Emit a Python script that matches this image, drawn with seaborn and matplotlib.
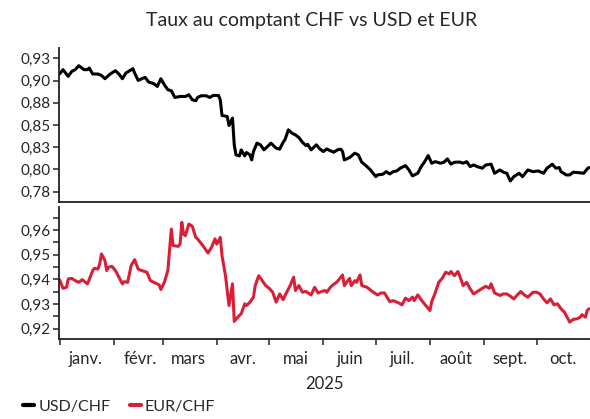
import matplotlib
matplotlib.use("Agg")
import matplotlib.pyplot as plt
import matplotlib.ticker as mticker
import seaborn as sns
import pandas as pd

# ---------------- data ----------------
title = "Taux au comptant CHF vs USD et EUR"
series_names = ["USD/CHF", "EUR/CHF"]
year_label = "2025"
months = ["janv.", "févr.", "mars", "avr.", "mai", "juin", "juil.", "août", "sept.", "oct."]

# day offsets from 2025-01-01 and spot rates
usd_day = [0, 2, 5, 7, 9, 11, 14, 16, 17, 19, 22, 24, 26, 29, 32, 34, 36, 38, 42, 43,
           45, 48, 49, 51, 54, 56, 58, 60, 62, 64, 66, 69, 72, 74, 76, 78, 79, 81, 84, 86,
           88, 91, 92, 93, 96, 97, 99, 100, 101, 103, 104, 106, 107, 109, 110, 111, 113, 115, 117, 119,
           121, 124, 126, 128, 129, 131, 133, 135, 137, 139, 141, 142, 144, 147, 149, 151, 153, 155, 157, 159,
           161, 162, 163, 166, 169, 171, 173, 176, 178, 181, 182, 185, 187, 189, 191, 193, 195, 198, 200, 202,
           205, 207, 209, 211, 213, 215, 218, 220, 222, 224, 226, 229, 231, 233, 235, 237, 239, 242, 244, 247,
           249, 252, 254, 256, 258, 260, 263, 265, 268, 271, 274, 277, 279, 282, 284, 286, 287, 290, 292, 294,
           297, 300, 302, 303]
usd_val = [0.9074, 0.9123, 0.9047, 0.9103, 0.9123, 0.9168, 0.9123, 0.9123, 0.9142, 0.9074,
           0.9074, 0.9058, 0.9021, 0.9074, 0.9111, 0.9074, 0.9021, 0.9085, 0.9134, 0.9085,
           0.9002, 0.9029, 0.9036, 0.8984, 0.8965, 0.8934, 0.9021, 0.8953, 0.8897, 0.8886,
           0.8810, 0.8821, 0.8821, 0.8841, 0.8784, 0.8773, 0.8810, 0.8829, 0.8829, 0.8810,
           0.8833, 0.8833, 0.8784, 0.8607, 0.8596, 0.8494, 0.8578, 0.8277, 0.8164, 0.8152,
           0.8220, 0.8152, 0.8190, 0.8164, 0.8107, 0.8201, 0.8296, 0.8277, 0.8220, 0.8257,
           0.8296, 0.8239, 0.8228, 0.8307, 0.8333, 0.8446, 0.8408, 0.8389, 0.8359, 0.8307,
           0.8269, 0.8284, 0.8220, 0.8277, 0.8231, 0.8201, 0.8231, 0.8210, 0.8194, 0.8220,
           0.8228, 0.8201, 0.8107, 0.8133, 0.8183, 0.8164, 0.8081, 0.8032, 0.7994, 0.7919,
           0.7938, 0.7946, 0.7975, 0.7949, 0.7975, 0.7983, 0.8014, 0.8043, 0.7994, 0.7927,
           0.7957, 0.8032, 0.8088, 0.8156, 0.8070, 0.8088, 0.8070, 0.8081, 0.8119, 0.8059,
           0.8081, 0.8083, 0.8070, 0.8088, 0.8032, 0.8051, 0.8032, 0.8014, 0.8051, 0.8059,
           0.7957, 0.7994, 0.7969, 0.7957, 0.7870, 0.7919, 0.7957, 0.7919, 0.7994, 0.7975,
           0.7983, 0.7957, 0.8014, 0.8059, 0.8014, 0.8021, 0.7975, 0.7938, 0.7938, 0.7969,
           0.7964, 0.7957, 0.8006, 0.8021]

eur_day = [0, 2, 4, 5, 7, 9, 11, 13, 16, 17, 19, 20, 22, 23, 24, 26, 27, 28, 30, 32,
           34, 36, 37, 39, 41, 43, 45, 47, 50, 52, 54, 57, 58, 60, 62, 64, 65, 68, 69, 70,
           71, 72, 74, 76, 78, 79, 82, 85, 87, 89, 90, 92, 93, 95, 97, 99, 100, 102, 104, 106,
           107, 109, 111, 112, 114, 116, 118, 120, 122, 124, 126, 128, 130, 132, 134, 135, 137, 139, 141, 144,
           146, 148, 150, 152, 153, 155, 156, 159, 162, 163, 166, 167, 169, 170, 172, 173, 176, 179, 182, 184,
           186, 189, 191, 194, 196, 198, 200, 202, 203, 205, 208, 210, 212, 213, 215, 217, 219, 221, 223, 224,
           226, 228, 229, 231, 233, 235, 237, 240, 242, 244, 246, 247, 249, 252, 254, 256, 258, 260, 262, 264,
           266, 268, 271, 273, 275, 277, 279, 281, 283, 285, 287, 289, 292, 294, 296, 298, 299, 301, 302, 303]
eur_val = [0.9399, 0.9364, 0.9368, 0.9402, 0.9404, 0.9395, 0.9388, 0.9399, 0.9382, 0.9399,
           0.9436, 0.9445, 0.9442, 0.9463, 0.9503, 0.9476, 0.9436, 0.9449, 0.9453, 0.9436,
           0.9409, 0.9382, 0.9391, 0.9388, 0.9456, 0.9480, 0.9442, 0.9436, 0.9429, 0.9395,
           0.9388, 0.9378, 0.9359, 0.9388, 0.9436, 0.9604, 0.9537, 0.9534, 0.9543, 0.9631,
           0.9584, 0.9577, 0.9624, 0.9615, 0.9570, 0.9564, 0.9537, 0.9507, 0.9530, 0.9564,
           0.9543, 0.9570, 0.9496, 0.9415, 0.9294, 0.9382, 0.9230, 0.9247, 0.9261, 0.9301,
           0.9294, 0.9308, 0.9328, 0.9375, 0.9415, 0.9395, 0.9375, 0.9364, 0.9348, 0.9308,
           0.9341, 0.9318, 0.9348, 0.9375, 0.9409, 0.9355, 0.9375, 0.9348, 0.9351, 0.9337,
           0.9368, 0.9345, 0.9351, 0.9355, 0.9348, 0.9368, 0.9375, 0.9391, 0.9418, 0.9375,
           0.9404, 0.9375, 0.9395, 0.9388, 0.9418, 0.9375, 0.9368, 0.9351, 0.9337, 0.9345,
           0.9345, 0.9310, 0.9314, 0.9305, 0.9297, 0.9324, 0.9314, 0.9328, 0.9314, 0.9337,
           0.9308, 0.9291, 0.9274, 0.9310, 0.9345, 0.9388, 0.9404, 0.9429, 0.9422, 0.9432,
           0.9415, 0.9432, 0.9415, 0.9375, 0.9388, 0.9362, 0.9341, 0.9355, 0.9364, 0.9372,
           0.9364, 0.9382, 0.9345, 0.9335, 0.9341, 0.9341, 0.9332, 0.9321, 0.9337, 0.9351,
           0.9337, 0.9328, 0.9348, 0.9348, 0.9341, 0.9321, 0.9305, 0.9321, 0.9297, 0.9301,
           0.9281, 0.9267, 0.9227, 0.9238, 0.9240, 0.9247, 0.9257, 0.9247, 0.9274, 0.9281]

usd_ticks = [0.775, 0.800, 0.825, 0.850, 0.875, 0.900, 0.925]
usd_ticklabels = ["0,78", "0,80", "0,83", "0,85", "0,88", "0,90", "0,93"]
eur_ticks = [0.92, 0.93, 0.94, 0.95, 0.96]
eur_ticklabels = ["0,92", "0,93", "0,94", "0,95", "0,96"]

# ---------------- style ----------------
sns.set_theme(style="ticks")
plt.rcParams["font.family"] = ["Lato", "DejaVu Sans"]
black = "#000000"
red = "#d91f38"
spine_lw = 1.3

start = pd.Timestamp("2025-01-01")
usd_df = pd.DataFrame({"date": start + pd.to_timedelta(usd_day, unit="D"), "rate": usd_val})
eur_df = pd.DataFrame({"date": start + pd.to_timedelta(eur_day, unit="D"), "rate": eur_val})

fig = plt.figure(figsize=(5.9, 4.19), dpi=100)
ax1 = fig.add_axes([0.0995, 0.518, 0.9005, 0.3675])
ax2 = fig.add_axes([0.0995, 0.190, 0.9005, 0.3158])

sns.lineplot(data=usd_df, x="date", y="rate", ax=ax1, color=black, linewidth=2.2, legend=False)
sns.lineplot(data=eur_df, x="date", y="rate", ax=ax2, color=red, linewidth=2.2, legend=False)

x_lo = start - pd.Timedelta(hours=11)
x_hi = start + pd.Timedelta(days=303.6)
month_starts = pd.date_range("2025-01-01", periods=len(months), freq="MS")
month_mids = month_starts + pd.Timedelta(days=15)

for ax in (ax1, ax2):
    ax.set_xlim(x_lo, x_hi)
    ax.set_xlabel("")
    ax.set_ylabel("")
    for side in ("top", "right"):
        ax.spines[side].set_visible(False)
    for side in ("left", "bottom"):
        ax.spines[side].set_linewidth(spine_lw)
        ax.spines[side].set_color("#222222")

# top panel
ax1.set_ylim(0.7634, 0.9367)
ax1.set_yticks(usd_ticks)
ax1.set_yticklabels(usd_ticklabels)
ax1.set_xticks([])
ax1.tick_params(axis="y", which="major", length=4, width=1.1, pad=2, labelsize=11, color="#222222")

# bottom panel
ax2.set_ylim(0.9157, 0.9693)
ax2.set_yticks(eur_ticks)
ax2.set_yticklabels(eur_ticklabels)
ax2.yaxis.set_minor_locator(mticker.MultipleLocator(0.005))
ax2.tick_params(axis="y", which="both", length=4, width=1.1, pad=2, labelsize=11, color="#222222")
ax2.set_xticks(month_starts)
ax2.set_xticklabels([""] * len(month_starts))
ax2.set_xticks(month_mids, minor=True)
ax2.set_xticklabels(months, minor=True)
ax2.tick_params(axis="x", which="major", length=4, width=1.1, color="#222222")
ax2.tick_params(axis="x", which="minor", length=0, pad=8, labelsize=12)
ax2.set_xlabel(year_label, fontsize=12, labelpad=7)

fig.text(0.528, 0.950, title, ha="center", va="center", fontsize=14)

handles = [plt.Line2D([], [], color=black, linewidth=3),
           plt.Line2D([], [], color=red, linewidth=3)]
fig.legend(handles, series_names, loc="lower left", bbox_to_anchor=(0.015, -0.022),
           ncol=2, frameon=False, handlelength=0.7, handletextpad=0.25,
           columnspacing=1.2, fontsize=11.5)

fig.savefig("out.png", dpi=100)
